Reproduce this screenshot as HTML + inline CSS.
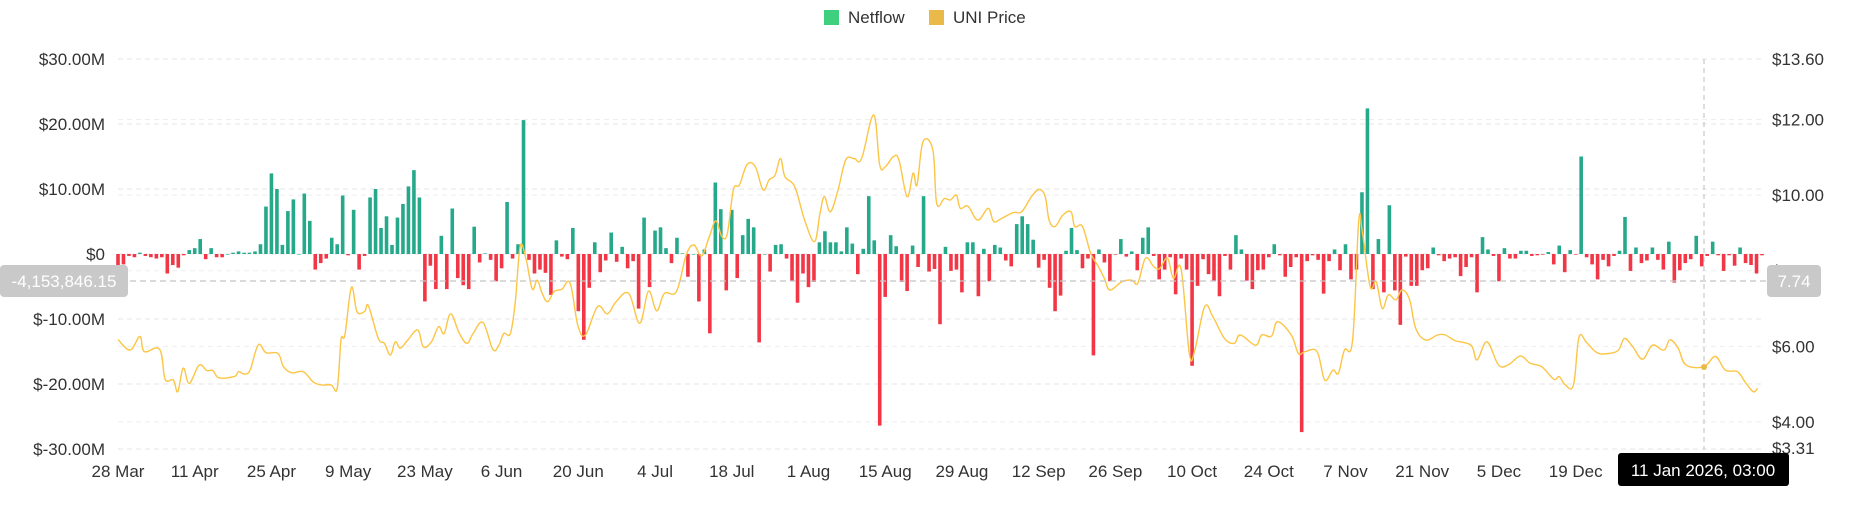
<!DOCTYPE html>
<html><head><meta charset="utf-8">
<style>
html,body{margin:0;padding:0;background:#fff;}
svg{display:block;font-family:"Liberation Sans",sans-serif;}
</style></head>
<body>
<svg id="chart" width="1852" height="525" viewBox="0 0 1852 525" xmlns="http://www.w3.org/2000/svg">
  <g>
    <g>
      <rect x="824" y="10" width="15" height="15" fill="#3ecf7f"/>
      <text x="848" y="23" font-size="17" fill="#333">Netflow</text>
    </g>
    <g>
      <rect x="929" y="10" width="15" height="15" fill="#e9b949"/>
      <text x="953" y="23" font-size="17" fill="#333">UNI Price</text>
    </g>
  </g>
  <g id="grid"></g>
  <g id="yLeft"></g>
  <g id="yRight"></g>
  <g id="xAxis"></g>
  <g id="bars"></g>
  <g id="line"></g>
  <g id="cross"></g>
</svg>
<script>
const xLabels = ["28 Mar","11 Apr","25 Apr","9 May","23 May","6 Jun","20 Jun","4 Jul","18 Jul","1 Aug","15 Aug","29 Aug","12 Sep","26 Sep","10 Oct","24 Oct","7 Nov","21 Nov","5 Dec","19 Dec"];
const leftTicks = [30,20,10,0,-10,-20,-30];
const leftTickLabels = ["$30.00M","$20.00M","$10.00M","$0","$-10.00M","$-20.00M","$-30.00M"];
const rightTicks = [13.6,12,10,8,6,4,3.31];
const rightTickLabels = ["$13.60","$12.00","$10.00","$8.00","$6.00","$4.00","$3.31"];
const netflow = [
-1.7,-1.6,-0.3,-0.5,0.2,-0.3,-0.5,-0.7,-0.5,-3.0,-1.7,-2.1,-0.2,0.6,0.9,2.3,-0.8,0.9,-0.5,-0.5,
0,0.2,0.4,0.2,0.2,0.4,1.5,7.3,12.4,10.0,1.4,6.6,8.4,0,9.3,5.1,-2.4,-1.4,-0.7,2.5,
1.5,9.0,-0.2,6.8,-2.4,-0.3,8.7,10.0,4.0,5.8,1.4,5.6,7.7,10.4,12.9,8.7,-7.3,-1.8,-5.4,2.8,
-5.4,7.0,-3.7,-4.8,-5.4,4.2,-1.3,0.1,-0.9,-4.2,-2.2,8.0,-0.7,1.5,20.6,-0.9,-3.0,-2.4,-2.9,-6.3,
2.1,-0.4,-0.8,4.0,-8.8,-13.2,-5.2,1.8,-2.8,-1.0,3.3,-1.2,1.1,-2.2,-1.1,-8.4,5.6,-5.1,3.6,4.1,
0.9,-1.4,2.5,0.1,-3.5,0,-7.3,0.7,-12.2,11.0,6.9,-5.6,6.8,-3.7,2.9,5.4,4.1,-13.6,0,-2.7,
1.4,1.5,-0.7,-4.1,-7.5,-3.0,-5.1,-4.3,1.8,3.5,1.8,1.8,0.4,4.1,1.6,-3.1,0.8,8.9,2.1,-26.4,
-6.6,2.9,1.2,-4.3,-5.7,1.3,-2.0,8.9,-2.7,-2.3,-10.8,1.1,-2.6,-2.4,-5.9,1.8,1.8,-6.5,0.8,-4.2,
1.4,1.0,-1.0,-1.9,4.6,5.8,4.6,2.2,-2.1,-0.9,-5.2,-8.8,-6.4,0.5,4.0,0.6,-2.2,-0.7,-15.6,0.7,
-1.3,-4.2,-0.1,2.3,-0.4,0.4,-2.5,2.5,4.1,-0.3,-3.9,-2.4,-0.5,-6.2,-0.7,-2.4,-17.2,-4.9,-0.8,-3.1,
-4.2,-6.5,-0.3,-2.4,2.9,0.7,-4.1,-5.4,-2.5,-2.4,-0.5,1.5,-0.2,-3.5,-2.0,-0.5,-27.4,-1.1,-0.2,-0.9,
-6.1,-1.1,0.7,-2.5,1.5,-3.9,-2.4,9.5,22.4,-5.4,2.3,-5.9,7.5,-5.6,-10.9,-0.4,-4.9,-4.9,-2.5,-2.2,
1.0,-0.2,-1.1,-0.7,-0.5,-3.4,-2.0,-0.5,-5.9,2.6,0.7,-0.3,-4.2,0.9,-0.7,-0.7,0.5,0.5,-0.3,-0.2,
-0.1,0.3,-1.6,1.3,-2.8,0.6,-0.1,15.0,-0.5,-1.6,-3.9,-0.9,-1.9,-0.3,0.5,5.7,-2.6,1.0,-1.4,-1.0,
1.0,-0.9,-2.4,1.9,-4.4,-2.5,-1.4,-0.8,2.8,-1.9,-0.3,1.9,-0.2,-2.6,-0.2,-1.8,1.0,-1.4,-1.7,-3.0,-0.2];
const priceDays = [0,2.2,4.0,4.8,7.6,8.6,10.1,10.9,11.9,13.0,14.8,16.2,17.3,18.4,21.2,22.0,23.0,24.1,25.6,27.0,29.2,30.2,31.7,33.8,35.6,37.1,38.9,40.0,40.7,41.4,42.6,43.6,45.0,45.7,47.5,48.6,49.7,50.6,51.5,52.9,54.7,55.7,57.2,58.5,59.5,60.7,62.3,63.7,64.8,66.6,68.4,69.5,70.4,71.6,72.5,73.4,74.5,75.6,76.5,77.4,78.4,79.6,81.0,82.5,83.9,85.3,87.5,89.3,90.9,
93.2,95.2,96.8,98.3,99.7,101.9,103.7,105.1,106.5,107.9,109.1,110.2,111.2,112.3,113.4,114.8,116.3,117.7,118.8,119.9,120.9,121.7,123.5,125.3,127.1,128.1,128.9,130.0,131.4,132.8,134.3,135.7,137.9,139.0,140.0,141.5,142.5,144.0,145.1,145.8,146.9,148.7,149.4,150.8,151.9,153.0,153.7,155.1,156.9,158.8,159.8,161.3,163.4,164.9,166.7,168.1,169.2,169.9,171.0,172.4,173.9,174.6,176.0,177.5,178.9,180.0,181.0,183.2,185.0,186.1,187.5,189.0,190.1,191.5,192.6,194.0,195.5,196.5,198.3,199.8,201.9,203.7,
204.8,207.6,208.7,210.5,211.6,214.1,215.4,216.6,218.8,220.2,221.7,222.7,223.8,225.3,226.4,227.1,228.5,229.6,230.7,231.8,233.2,234.3,235.7,236.8,238.6,240.8,242.2,244.0,246.9,248.0,249.8,251.9,253.7,255.9,257.7,259.8,262.0,263.0,264.1,265.6,266.6,268.0,269.9,272.0,273.8,274.9,276.4,278.2,280.0,282.1,283.2,284.7,286.1,289.4,291.5,293.3,295.5,296.9,298.4,299.2];
const priceValues = [6.18,5.90,6.26,5.86,5.92,5.13,5.11,4.80,5.42,5.02,5.50,5.36,5.36,5.17,5.20,5.33,5.27,5.37,6.04,5.83,5.81,5.46,5.30,5.33,5.06,4.98,4.98,4.89,6.17,6.30,7.56,6.92,6.92,7.07,6.21,6.08,5.77,6.12,5.95,6.17,6.43,5.99,6.12,6.52,6.34,6.86,6.34,6.08,6.34,6.63,5.92,6.03,6.34,6.34,7.18,8.65,8.28,7.51,7.75,7.40,7.18,7.45,7.51,7.67,6.56,6.30,7.05,6.86,7.18,
7.40,6.61,7.46,6.94,7.40,7.45,8.42,8.68,8.39,8.90,9.32,8.90,8.99,10.14,10.27,10.81,10.75,10.14,10.40,10.53,10.97,10.49,10.22,9.34,8.77,9.52,9.96,9.56,10.14,10.93,10.97,10.97,12.12,10.80,10.75,11.02,10.93,9.96,10.58,10.27,11.41,11.19,9.78,9.91,9.87,10.00,9.65,9.71,9.34,9.65,9.30,9.39,9.54,9.56,9.96,10.15,9.96,9.34,9.17,9.47,9.56,9.17,9.17,8.46,8.11,7.80,7.49,7.71,7.75,7.67,8.33,8.11,8.06,8.33,7.80,8.04,5.81,5.90,7.05,6.78,6.21,6.08,
6.30,6.03,6.30,6.27,6.65,6.30,5.81,5.86,5.86,5.11,5.37,5.29,5.90,6.17,9.30,8.99,7.58,7.71,7.00,7.36,7.23,7.49,7.23,6.48,6.17,6.30,6.30,6.15,6.03,5.64,6.12,5.51,5.51,5.74,5.55,5.46,5.13,5.20,4.98,4.98,6.24,6.10,5.83,5.81,5.90,6.21,5.99,5.66,6.03,5.90,6.17,5.95,5.51,5.46,5.73,5.37,5.33,5.06,4.80,4.89];

const NS="http://www.w3.org/2000/svg";
const X0=118, DX=5.48, PL=118, PR=1763;
const xScale = d => X0 + DX*d;
const yLeft = v => 254 - v*6.5;
const yRight = p => 448 - (p-3.31)*37.8;
function mk(tag, attrs, parent){const e=document.createElementNS(NS,tag);for(const k in attrs)e.setAttribute(k,attrs[k]);parent.appendChild(e);return e;}

const grid=document.getElementById('grid');
leftTicks.forEach((t,i)=>{
  const l=mk('line',{x1:PL,x2:PR,y1:yLeft(t),y2:yLeft(t),stroke:'#e6e6e6','stroke-dasharray':'5,4','stroke-width':1},grid);
  
  
  const tx=mk('text',{x:105,y:yLeft(t)+6,'text-anchor':'end','font-size':17,fill:'#333'},document.getElementById('yLeft'));
  tx.textContent=leftTickLabels[i];
  
  
});
rightTicks.forEach((t,i)=>{
  if(t!==13.6 && t!==3.31){
    const l=mk('line',{x1:PL,x2:PR,y1:yRight(t),y2:yRight(t),stroke:'#eeeeee','stroke-dasharray':'5,4','stroke-width':1},grid);
    
    
  }
  const tx=mk('text',{x:1772,y:yRight(t)+6,'font-size':17,fill:'#333'},document.getElementById('yRight'));
  tx.textContent=rightTickLabels[i];
  
  
});
xLabels.forEach((s,i)=>{
  const tx=mk('text',{x:xScale(i*14),y:477,'text-anchor':'middle','font-size':17,fill:'#333'},document.getElementById('xAxis'));
  tx.textContent=s;
  
  
});
const bars=document.getElementById('bars');
netflow.forEach((v,i)=>{
  const y0=yLeft(0), y1=yLeft(v);
  const r=mk('rect',{x:xScale(i)-1.8,y:Math.min(y0,y1),width:3.6,height:Math.max(Math.abs(y1-y0),0.6),fill:v>=0?'#26a98b':'#f23645'},bars);
  
  
});
// smooth price line (Catmull-Rom)
const pts=priceDays.map((d,i)=>[xScale(d),yRight(priceValues[i])]);
let dstr='M'+pts[0][0]+','+pts[0][1];
for(let i=0;i<pts.length-1;i++){
  const p0=pts[Math.max(0,i-1)],p1=pts[i],p2=pts[i+1],p3=pts[Math.min(pts.length-1,i+2)];
  const t=0.18;
  const c1=[p1[0]+(p2[0]-p0[0])*t,p1[1]+(p2[1]-p0[1])*t];
  const c2=[p2[0]-(p3[0]-p1[0])*t,p2[1]-(p3[1]-p1[1])*t];
  dstr+=`C${c1[0].toFixed(1)},${c1[1].toFixed(1)} ${c2[0].toFixed(1)},${c2[1].toFixed(1)} ${p2[0].toFixed(1)},${p2[1].toFixed(1)}`;
}
const path=mk('path',{d:dstr,fill:'none',stroke:'#fcc545','stroke-width':1.4},document.getElementById('line'));



// crosshair
const cr=document.getElementById('cross');
const hy=281, vx=1704;
mk('line',{x1:0,x2:1820,y1:hy,y2:hy,stroke:'#c4c4c4','stroke-dasharray':'6,4','stroke-width':1.3},cr);
mk('line',{x1:vx,x2:vx,y1:59,y2:450,stroke:'#c8c8c8','stroke-dasharray':'5,4','stroke-width':1.2},cr);
const lt=mk('g',{},cr);


mk('rect',{x:0,y:265,width:128,height:32,rx:4,fill:'#c9c9c9'},lt);
mk('text',{x:64,y:287,'text-anchor':'middle','font-size':17,fill:'#fff'},lt).textContent='-4,153,846.15';
const rt=mk('g',{},cr);


mk('rect',{x:1767,y:265,width:54,height:32,rx:4,fill:'#c9c9c9'},rt);
mk('text',{x:1794,y:287,'text-anchor':'middle','font-size':17,fill:'#fff'},rt).textContent='7.74';
const bt=mk('g',{},cr);


mk('rect',{x:1618,y:453,width:171,height:33,rx:3,fill:'#000'},bt);
mk('text',{x:1703,y:476,'text-anchor':'middle','font-size':17,fill:'#fff'},bt).textContent='11 Jan 2026, 03:00';
const dot=mk('circle',{cx:vx,cy:367,r:3,fill:'#e9b949'},cr);


</script>
</body></html>
